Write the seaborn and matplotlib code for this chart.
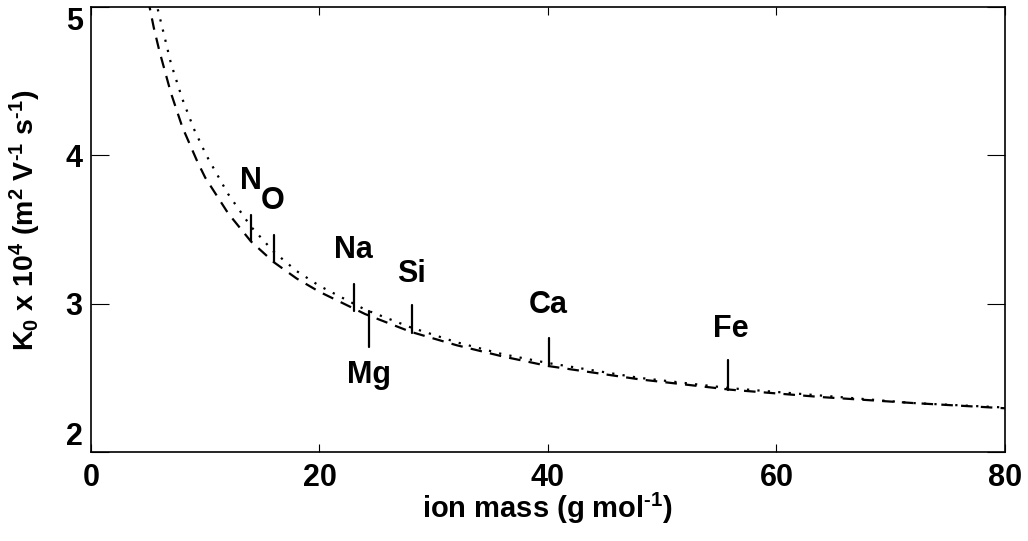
import matplotlib
matplotlib.use("Agg")
import matplotlib.pyplot as plt
import seaborn as sns
import pandas as pd

sns.set_theme(style="ticks")
plt.rcParams['font.family'] = ['Liberation Sans', 'DejaVu Sans']
plt.rcParams['font.weight'] = 'bold'
plt.rcParams['mathtext.fontset'] = 'custom'
plt.rcParams['mathtext.rm'] = 'Liberation Sans:bold'
plt.rcParams['mathtext.bf'] = 'Liberation Sans:bold'
plt.rcParams['mathtext.it'] = 'Liberation Sans:bold'
for k in ['text.color', 'axes.labelcolor', 'xtick.color', 'ytick.color', 'axes.edgecolor']:
    plt.rcParams[k] = 'black'

# Upper (dotted) curve
mass_dot = [5.5, 5.8, 6.5, 7, 8, 9, 10.1, 12, 14, 16, 18, 20, 24, 28, 32, 36, 40, 48, 56, 64, 72, 80]
k0_dot = [5.12, 5.0, 4.78, 4.62, 4.38, 4.18, 4.0, 3.74, 3.52, 3.35, 3.22, 3.12, 2.96, 2.84, 2.74, 2.66, 2.60, 2.50, 2.43, 2.38, 2.33, 2.30]

# Lower (dashed) curve
mass_dash = [4.9, 5.0, 5.5, 6, 7, 8, 9.3, 10, 12, 14, 16, 18, 20, 24, 28, 32, 36, 40, 48, 56, 64, 72, 80]
k0_dash = [5.1, 5.05, 4.86, 4.7, 4.42, 4.19, 3.96, 3.85, 3.61, 3.42, 3.28, 3.17, 3.08, 2.93, 2.81, 2.72, 2.645, 2.58, 2.49, 2.42, 2.37, 2.33, 2.295]

# Element markers
elements = ['N', 'O', 'Na', 'Mg', 'Si', 'Ca', 'Fe']
el_mass = [14.0, 16.0, 23.0, 24.3, 28.1, 40.1, 55.8]
tick_lo = [3.42, 3.28, 2.95, 2.71, 2.80, 2.58, 2.42]
tick_hi = [3.60, 3.46, 3.13, 2.95, 2.99, 2.77, 2.62]
label_x = [14.0, 15.9, 23.0, 24.3, 28.1, 40.0, 56.0]
label_y = [3.83, 3.69, 3.36, 2.52, 3.20, 2.99, 2.83]

fig = plt.figure(figsize=(10.28, 5.41), dpi=100)
ax = fig.add_axes([0.0885, 0.1645, 0.889, 0.8225])

df_dot = pd.DataFrame({'mass': mass_dot, 'k0': k0_dot})
df_dash = pd.DataFrame({'mass': mass_dash, 'k0': k0_dash})
sns.lineplot(data=df_dot, x='mass', y='k0', ax=ax, color='black', lw=1.6,
             linestyle=(0, (1, 3.7)), sort=False)
sns.lineplot(data=df_dash, x='mass', y='k0', ax=ax, color='black', lw=1.6,
             linestyle=(0, (5.2, 3.7)), sort=False)

for m, lo, hi in zip(el_mass, tick_lo, tick_hi):
    ax.plot([m, m], [lo, hi], color='black', lw=1.6)
for name, lx, ly in zip(elements, label_x, label_y):
    ax.text(lx, ly, name, ha='center', va='center', fontsize=22, fontweight='bold')

ax.set_xlim(0, 80)
ax.set_ylim(2, 5)
ax.set_xticks([0, 20, 40, 60, 80])
ax.set_yticks([2, 3, 4, 5])
ax.tick_params(direction='in', width=0.8, labelsize=22, top=True, right=True)
ax.tick_params(axis='x', length=6, pad=8)
ax.tick_params(axis='y', length=13, pad=6)
for lab in ax.get_xticklabels() + ax.get_yticklabels():
    lab.set_fontweight('bold')
for s in ax.spines.values():
    s.set_linewidth(1.2)

ax.set_xlabel(r'ion mass (g mol$^{\text{-1}}$)', fontsize=21, fontweight='bold', labelpad=-2)
ax.set_ylabel(r'K$_0$ x 10$^4$ (m$^2$ V$^{\text{-1}}$ s$^{\text{-1}}$)', fontsize=20.5,
              fontweight='bold')
ax.yaxis.set_label_coords(-0.052, 0.52)

ylabs = ax.get_yticklabels()
ylabs[0].set_va('bottom')
ylabs[-1].set_va('top')

fig.savefig('out.png', dpi=100)
